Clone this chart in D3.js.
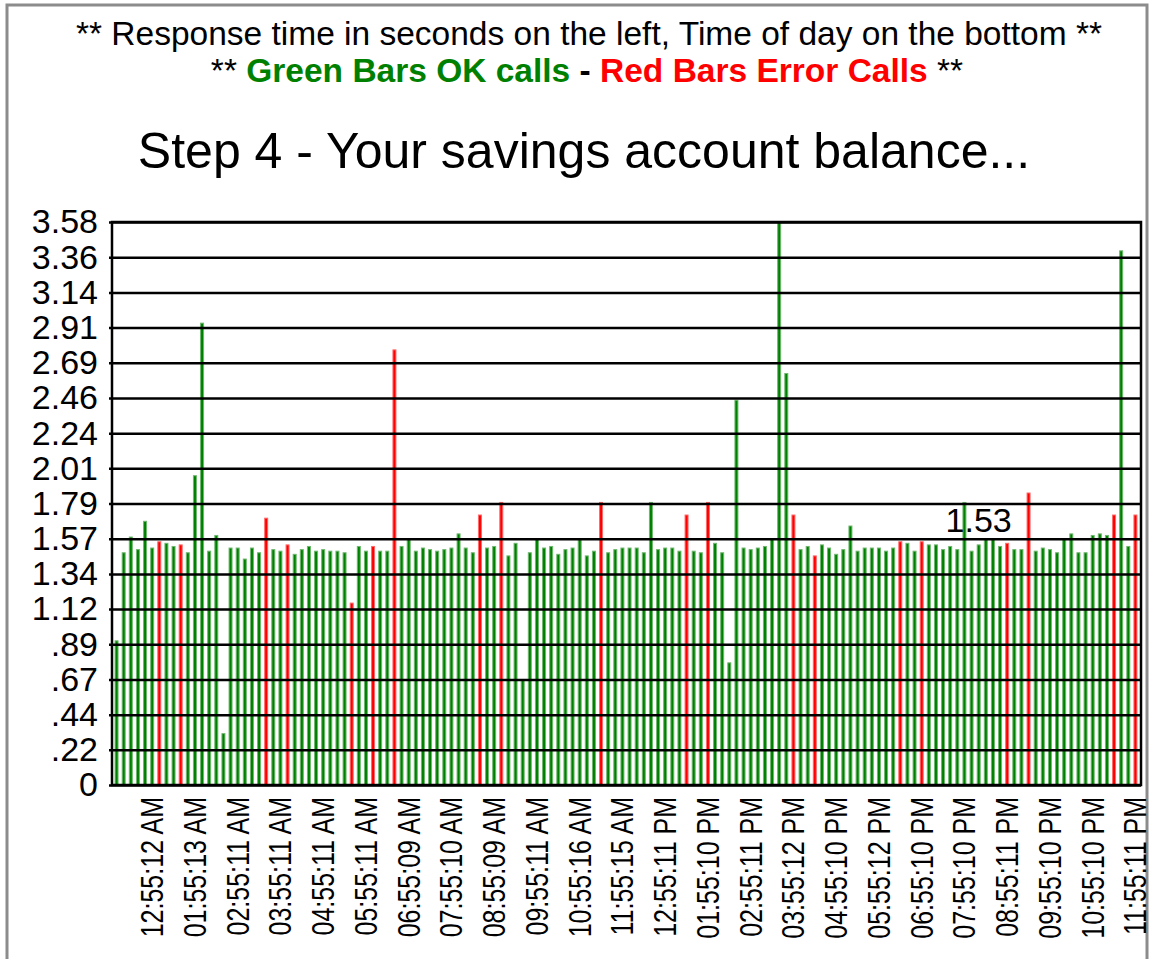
<!DOCTYPE html>
<html>
<head>
<meta charset="utf-8">
<script src="https://cdn.jsdelivr.net/npm/d3@7"></script>
<style>
  body { margin: 0; background: #fff; }
  svg { display: block; font-family: "Liberation Sans", Arial, sans-serif; }
</style>
</head>
<body>
<figure id="chart" style="margin:0"></figure>
<script>
// response time per 10 minute slot (seconds)
var responseTimes = [
    0.92, 1.48, 1.58, 1.50, 1.68, 1.51, 1.55, 1.54, 1.52, 1.53, 1.48, 1.97,
    2.94, 1.49, 1.59, 0.33, 1.51, 1.51, 1.44, 1.51, 1.48, 1.70, 1.50, 1.49,
    1.53, 1.47, 1.50, 1.52, 1.49, 1.50, 1.49, 1.49, 1.48, 1.16, 1.52, 1.49,
    1.52, 1.49, 1.49, 2.77, 1.52, 1.57, 1.49, 1.51, 1.50, 1.49, 1.50, 1.51,
    1.60, 1.51, 1.48, 1.72, 1.51, 1.52, 1.80, 1.46, 1.54, 0.67, 1.48, 1.57,
    1.51, 1.52, 1.47, 1.50, 1.51, 1.57, 1.46, 1.49, 1.80, 1.48, 1.50, 1.51,
    1.51, 1.51, 1.48, 1.80, 1.50, 1.51, 1.51, 1.49, 1.72, 1.49, 1.48, 1.80,
    1.54, 1.48, 0.78, 2.45, 1.51, 1.50, 1.51, 1.52, 1.57, 3.58, 2.62, 1.72,
    1.50, 1.52, 1.46, 1.53, 1.51, 1.47, 1.50, 1.65, 1.49, 1.51, 1.51, 1.51,
    1.49, 1.51, 1.55, 1.54, 1.49, 1.55, 1.53, 1.53, 1.50, 1.52, 1.50, 1.80,
    1.49, 1.53, 1.57, 1.57, 1.52, 1.54, 1.50, 1.50, 1.86, 1.49, 1.51, 1.50,
    1.48, 1.57, 1.60, 1.48, 1.48, 1.59, 1.60, 1.59, 1.72, 3.40, 1.52, 1.72
];

// slots that were error calls (red bars)
var errorSlots = [6, 9, 21, 24, 33, 36, 39, 51, 54, 68, 80, 83, 95, 98, 110, 113, 125, 128, 140, 143];

var timeLabels = [
    "12:55:12 AM", "01:55:13 AM", "02:55:11 AM", "03:55:11 AM", "04:55:11 AM", "05:55:11 AM",
    "06:55:09 AM", "07:55:10 AM", "08:55:09 AM", "09:55:11 AM", "10:55:16 AM", "11:55:15 AM",
    "12:55:11 PM", "01:55:10 PM", "02:55:11 PM", "03:55:12 PM", "04:55:10 PM", "05:55:12 PM",
    "06:55:10 PM", "07:55:10 PM", "08:55:11 PM", "09:55:10 PM", "10:55:10 PM", "11:55:11 PM"
];
// slot index where each time label sits
var labelSlots = [5, 11, 17, 23, 29, 35, 41, 47, 53, 59, 65, 71, 77, 83, 89, 95, 101, 107, 113, 119, 125, 131, 137, 143];

var yMax = 3.58;
var yTickLabels = ["0", ".22", ".44", ".67", ".89", "1.12", "1.34", "1.57", "1.79",
    "2.01", "2.24", "2.46", "2.69", "2.91", "3.14", "3.36", "3.58"];

var highlightSlot = 121; // the slot with a value label

let dimensions = {
    width: 1153,
    height: 959,
    margin: { top: 222, right: 12, bottom: 174, left: 112 },
};
dimensions.boundedWidth = 1141 - dimensions.margin.left;
dimensions.boundedHeight = 785 - dimensions.margin.top;

var root = d3.select("figure#chart")
    .append("svg")
    .attr("width", dimensions.width)
    .attr("height", dimensions.height);

// outer frame
root.append("rect")
    .attr("x", 7).attr("y", 5)
    .attr("width", 1140).attr("height", 970)
    .attr("fill", "none")
    .attr("stroke", "#8c8c8c")
    .attr("stroke-width", 3);

// header texts
root.append("text")
    .attr("x", 589).attr("y", 45)
    .attr("text-anchor", "middle")
    .style("font-size", "33.5px")
    .text("** Response time in seconds on the left, Time of day on the bottom **");

var line2 = root.append("text")
    .attr("x", 587).attr("y", 82)
    .attr("text-anchor", "middle")
    .style("font-size", "33.5px");
line2.append("tspan").text("** ");
line2.append("tspan").attr("fill", "#008000").style("font-weight", "bold").text("Green Bars OK calls");
line2.append("tspan").style("font-weight", "bold").text(" - ");
line2.append("tspan").attr("fill", "#ff0000").style("font-weight", "bold").text("Red Bars Error Calls");
line2.append("tspan").text(" **");

root.append("text")
    .attr("x", 584).attr("y", 168)
    .attr("text-anchor", "middle")
    .style("font-size", "50px")
    .text("Step 4 - Your savings account balance...");

var svg = root.append("g")
    .attr("transform", `translate(${dimensions.margin.left}, ${dimensions.margin.top})`);

var xScale = d3.scaleBand()
    .domain(d3.range(responseTimes.length))
    .range([1, 1027])
    .paddingInner(0.44)
    .paddingOuter(0.22);

var yScale = d3.scaleLinear()
    .domain([0, yMax])
    .range([dimensions.boundedHeight, 0]);

var yTicks = d3.range(yTickLabels.length).map(i => i * yMax / (yTickLabels.length - 1));

// bars: dark core with a lighter rim, like the original rendering
svg.selectAll("rect.bar")
    .data(responseTimes)
    .enter()
    .append("rect")
    .attr("class", "bar")
    .attr("x", (d, i) => xScale(i) + 0.5)
    .attr("y", d => yScale(d) + 0.5)
    .attr("width", xScale.bandwidth() - 1)
    .attr("height", d => dimensions.boundedHeight - yScale(d) - 0.5)
    .attr("fill", (d, i) => errorSlots.includes(i) ? "#ff0000" : "#008000")
    .attr("stroke", (d, i) => errorSlots.includes(i) ? "#ff6a6a" : "#6fb86f")
    .attr("stroke-width", 1);

// y axis with gridlines on top of the bars
var yAxis = svg.append("g")
    .attr("class", "y axis")
    .call(d3.axisLeft(yScale)
        .tickValues(yTicks)
        .tickFormat((d, i) => yTickLabels[i])
        .tickSizeInner(-dimensions.boundedWidth)
        .tickSizeOuter(0)
        .tickPadding(14));
yAxis.select(".domain").remove();
yAxis.selectAll(".tick line")
    .attr("x1", -3)
    .attr("stroke", "#000")
    .attr("stroke-width", 2.5);
yAxis.selectAll("text")
    .attr("fill", "#000")
    .style("font-size", "34px")
    .style("font-family", "'Liberation Sans', Arial, sans-serif");

// plot frame
svg.append("rect")
    .attr("x", 0).attr("y", 0)
    .attr("width", dimensions.boundedWidth)
    .attr("height", dimensions.boundedHeight)
    .attr("fill", "none")
    .attr("stroke", "#000")
    .attr("stroke-width", 2.5);

// x axis, rotated time labels
var xAxis = svg.append("g")
    .attr("class", "x axis")
    .attr("transform", `translate(0, ${dimensions.boundedHeight})`)
    .call(d3.axisBottom(xScale)
        .tickValues(labelSlots)
        .tickFormat((d, i) => timeLabels[i])
        .tickSize(0));
xAxis.select(".domain").remove();
xAxis.selectAll("text")
    .attr("x", -12)
    .attr("y", 0)
    .attr("dy", "0.35em")
    .attr("transform", "rotate(-90) scale(1, 1.25)")
    .attr("fill", "#000")
    .style("text-anchor", "end")
    .style("font-size", "25px")
    .style("font-family", "'Liberation Sans', Arial, sans-serif");

// value label on one bar
svg.append("text")
    .attr("x", xScale(highlightSlot) + xScale.bandwidth() / 2)
    .attr("y", yScale(responseTimes[highlightSlot]) - 12)
    .attr("text-anchor", "middle")
    .style("font-size", "34px")
    .text(d3.format(".2f")(responseTimes[highlightSlot]));
</script>
</body>
</html>
